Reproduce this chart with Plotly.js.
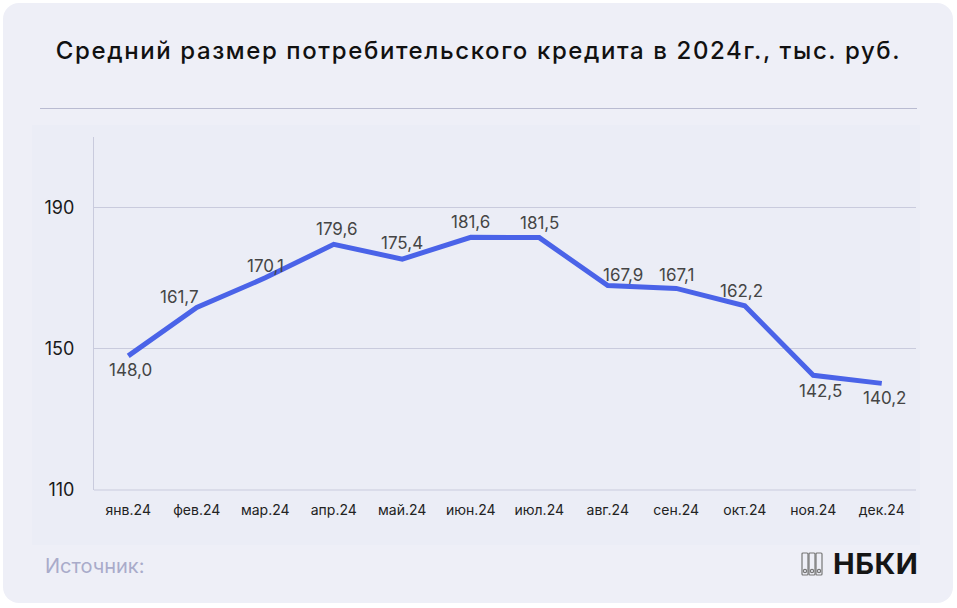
<!DOCTYPE html>
<html>
<head>
<meta charset="utf-8">
<script src="https://cdn.plot.ly/plotly-3.0.1.min.js"></script>
<style>
html,body{margin:0;padding:0;background:#ffffff;width:957px;height:608px;overflow:hidden;font-family:Inter,"Noto Sans",sans-serif;}
#panel{position:absolute;left:3px;top:3px;width:950px;height:600px;background:#eeeff7;border-radius:16px;}
#inner{position:absolute;left:32px;top:125px;width:888px;height:420px;background:#ebedf6;}
#sep{position:absolute;left:40px;top:108px;width:877px;height:1px;background:#b9bbd1;}
#chart{position:absolute;left:0;top:0;width:957px;height:608px;}
#title{position:absolute;left:0;top:36px;width:957px;text-align:center;font-size:24px;font-weight:500;letter-spacing:1.6px;color:#111111;white-space:nowrap;}
#src{position:absolute;left:45px;top:554px;font-size:20px;color:#a9abca;}
#logo{position:absolute;left:801px;top:546px;display:flex;align-items:center;}
#logo span{font-size:29px;font-weight:700;color:#151515;margin-left:10px;letter-spacing:0.5px;}
</style>
</head>
<body>
<div id="panel"></div>
<div id="inner"></div>
<div id="sep"></div>
<div id="chart"></div>
<div id="title"></div>
<div id="src">Источник:</div>
<div id="logo">
<svg width="22" height="24" viewBox="0 0 22 24">
<g fill="none" stroke="#777" stroke-width="1.2">
<rect x="1" y="1" width="6" height="22" rx="1"/>
<rect x="8" y="1" width="6" height="22" rx="1"/>
<rect x="15" y="1" width="6" height="22" rx="1"/>
<circle cx="4" cy="19" r="1.6"/>
<circle cx="11" cy="19" r="1.6"/>
<circle cx="18" cy="19" r="1.6"/>
</g>
</svg>
<span>НБКИ</span>
</div>
<script>
const months = ["янв.24","фев.24","мар.24","апр.24","май.24","июн.24","июл.24","авг.24","сен.24","окт.24","ноя.24","дек.24"];
const values = [148.0,161.7,170.1,179.6,175.4,181.6,181.5,167.9,167.1,162.2,142.5,140.2];
const labelDx = [2,-17,0,3,0,0,0,15,0,-3,7,3];
const labelDy = [-14,11,12,15,16,15,15,11,13,15,-16,-15];
const yTicks = [110,150,190];
const titleText = "Средний размер потребительского кредита в 2024г., тыс. руб.";

document.getElementById("title").textContent = titleText;

const trace = {
  x: months,
  y: values,
  type: "scatter",
  mode: "lines",
  line: {color: "#4a63e8", width: 5},
  hoverinfo: "none"
};

const annotations = values.map((v, i) => ({
  x: months[i], y: v, xref: "x", yref: "y",
  text: v.toFixed(1).replace(".", ","),
  showarrow: false,
  xanchor: "center", yanchor: "middle",
  xshift: labelDx[i],
  yshift: labelDy[i],
  font: {family: "Inter, sans-serif", size: 17, color: "#454545"}
}));

const layout = {
  width: 957,
  height: 608,
  paper_bgcolor: "rgba(0,0,0,0)",
  plot_bgcolor: "rgba(0,0,0,0)",
  margin: {l: 94, r: 41, t: 137, b: 118},
  showlegend: false,
  xaxis: {
    type: "category",
    range: [-0.5, 11.5],
    showgrid: false,
    showline: false,
    zeroline: false,
    ticks: "",
    tickfont: {family: "Inter, sans-serif", size: 14, color: "#222222"},
    ticklabelstandoff: 10
  },
  yaxis: {
    range: [110, 210],
    tickvals: yTicks,
    ticktext: yTicks.map(String),
    showgrid: true,
    gridcolor: "#c9cbdd",
    gridwidth: 1,
    showline: true,
    linecolor: "#c9cbdd",
    linewidth: 1,
    zeroline: false,
    ticks: "",
    tickfont: {family: "Inter, sans-serif", size: 18, color: "#1a1a1a"},
    ticklabelstandoff: 15
  },
  annotations: annotations,
  shapes: [{
    type: "line", xref: "paper", yref: "paper",
    x0: 0, x1: 1, y0: 0, y1: 0,
    line: {color: "#c9cbdd", width: 1}
  }]
};

Plotly.newPlot("chart", [trace], layout, {displayModeBar: false, staticPlot: true});
</script>
</body>
</html>
